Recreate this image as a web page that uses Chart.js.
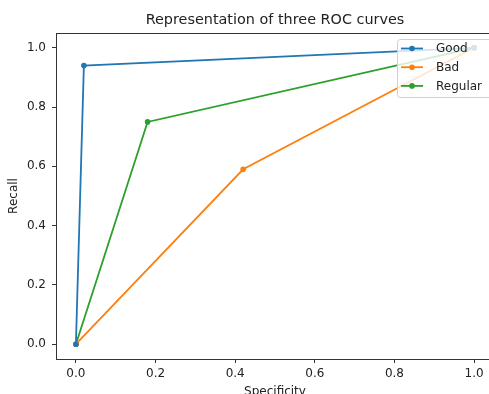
<!DOCTYPE html>
<html lang="en">
<head>
    <meta charset="UTF-8">
    <title>Representation of three ROC curves</title>
    <script src="https://cdn.jsdelivr.net/npm/chart.js"></script>
    <style>
        html, body {
            margin: 0;
            padding: 0;
            background: #fff;
            overflow: hidden;
        }
        .frame {
            position: relative;
            width: 489px;
            height: 394px;
            overflow: hidden;
        }
        canvas {
            position: absolute;
            left: 0;
            top: 0;
        }
    </style>
</head>
<body>
    <div class="frame">
        <canvas id="rocChart" width="505" height="400"></canvas>
    </div>

    <script>
        // curve data
        var seriesNames = ['Good', 'Bad', 'Regular'];
        var goodX = [0, 0.02, 1];
        var goodY = [0, 0.94, 1];
        var badX = [0, 0.42, 1];
        var badY = [0, 0.59, 1];
        var regularX = [0, 0.18, 1];
        var regularY = [0, 0.75, 1];
        var xTicks = [0, 0.2, 0.4, 0.6, 0.8, 1.0];
        var yTicks = [0, 0.2, 0.4, 0.6, 0.8, 1.0];

        var colors = ['#1f77b4', '#ff7f0e', '#2ca02c'];
        var textColor = '#222';
        var fontFamily = "'DejaVu Sans', sans-serif";

        function toPoints(xs, ys) {
            return xs.map(function(x, i) { return { x: x, y: ys[i] }; });
        }

        var allData = [toPoints(goodX, goodY), toPoints(badX, badY), toPoints(regularX, regularY)];

        var datasets = seriesNames.map(function(name, i) {
            return {
                label: name,
                data: allData[i],
                borderColor: colors[i],
                backgroundColor: colors[i],
                borderWidth: 1.8,
                pointRadius: 2.8,
                pointBorderWidth: 0,
                pointBackgroundColor: colors[i],
                tension: 0
            };
        });

        // title, top spine and the legend box inside the plot
        var decorations = {
            id: 'decorations',
            afterDatasetsDraw: function(chart) {
                var ctx = chart.ctx;
                var area = chart.chartArea;
                ctx.save();

                // top spine
                ctx.strokeStyle = '#333';
                ctx.lineWidth = 1;
                ctx.beginPath();
                ctx.moveTo(area.left, area.top + 0.5);
                ctx.lineTo(area.right, area.top + 0.5);
                ctx.stroke();

                // title
                ctx.fillStyle = textColor;
                ctx.font = '14.4px ' + fontFamily;
                ctx.textAlign = 'center';
                ctx.textBaseline = 'middle';
                ctx.fillText('Representation of three ROC curves', (area.left + area.right) / 2, 20);

                // legend
                var lx = 397, ly = 39.5, lw = 96, lh = 58;
                ctx.beginPath();
                ctx.roundRect(lx + 0.5, ly, lw, lh, 3);
                ctx.fillStyle = 'rgba(255,255,255,0.8)';
                ctx.fill();
                ctx.strokeStyle = '#d0d0d0';
                ctx.lineWidth = 1;
                ctx.stroke();

                ctx.font = '12px ' + fontFamily;
                ctx.textAlign = 'left';
                chart.data.datasets.forEach(function(ds, i) {
                    var y = 48.5 + i * 18.7;
                    ctx.strokeStyle = ds.borderColor;
                    ctx.lineWidth = 1.8;
                    ctx.beginPath();
                    ctx.moveTo(401, y);
                    ctx.lineTo(423, y);
                    ctx.stroke();
                    ctx.fillStyle = ds.borderColor;
                    ctx.beginPath();
                    ctx.arc(412, y, 2.8, 0, Math.PI * 2);
                    ctx.fill();
                    ctx.fillStyle = textColor;
                    ctx.fillText(ds.label, 436, y + 0.5);
                });
                ctx.restore();
            }
        };

        var ctx = document.getElementById('rocChart').getContext('2d');
        var rocChart = new Chart(ctx, {
            type: 'line',
            data: { datasets: datasets },
            options: {
                responsive: false,
                animation: false,
                devicePixelRatio: 1,
                layout: { padding: { top: 33, right: 11, left: 0, bottom: 0 } },
                plugins: {
                    legend: { display: false },
                    tooltip: { enabled: false }
                },
                scales: {
                    x: {
                        type: 'linear',
                        min: -0.05,
                        max: 1.05,
                        afterFit: function(scale) { scale.height = 41; },
                        afterBuildTicks: function(scale) {
                            scale.ticks = xTicks.map(function(v) { return { value: v }; });
                        },
                        grid: {
                            drawOnChartArea: false,
                            drawTicks: true,
                            tickLength: 4,
                            tickColor: '#333'
                        },
                        border: { color: '#333', width: 1 },
                        ticks: {
                            color: textColor,
                            padding: 4,
                            maxRotation: 0,
                            font: { family: fontFamily, size: 12 },
                            callback: function(v) { return Number(v).toFixed(1); }
                        },
                        title: {
                            display: true,
                            text: 'Specificity',
                            color: textColor,
                            font: { family: fontFamily, size: 12 },
                            padding: { top: 0, bottom: 1 }
                        }
                    },
                    y: {
                        type: 'linear',
                        min: -0.05,
                        max: 1.05,
                        afterFit: function(scale) { scale.width = 56; },
                        afterBuildTicks: function(scale) {
                            scale.ticks = yTicks.map(function(v) { return { value: v }; });
                        },
                        grid: {
                            drawOnChartArea: false,
                            drawTicks: true,
                            tickLength: 4,
                            tickColor: '#333'
                        },
                        border: { color: '#333', width: 1 },
                        ticks: {
                            color: textColor,
                            padding: 6,
                            font: { family: fontFamily, size: 12 },
                            callback: function(v) { return Number(v).toFixed(1); }
                        },
                        title: {
                            display: true,
                            text: 'Recall',
                            color: textColor,
                            font: { family: fontFamily, size: 12 },
                            padding: { top: 7, bottom: 0 }
                        }
                    }
                }
            },
            plugins: [decorations]
        });
    </script>
</body>
</html>
